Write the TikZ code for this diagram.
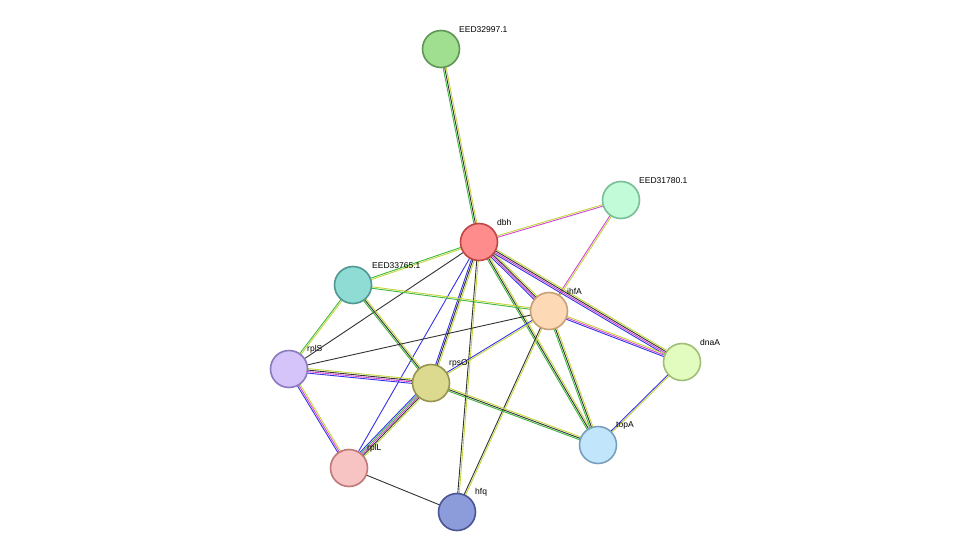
\documentclass[tikz,border=0pt]{standalone}
\usepackage{fontspec}
\setmainfont{Liberation Sans}
\usetikzlibrary{calc}
\pgfdeclarelayer{bg}
\pgfsetlayers{bg,main}
\definecolor{lgreen}{RGB}{61,185,61}
\definecolor{lyellow}{RGB}{196,214,60}
\definecolor{lblue}{RGB}{50,50,230}
\definecolor{lmag}{RGB}{210,70,210}
\definecolor{lblack}{RGB}{50,50,50}
\tikzset{
  prot/.style={circle,minimum size=37pt,inner sep=0pt,line width=1.6pt},
  lbl/.style={font=\fontsize{8.5}{10}\selectfont,anchor=south west,inner sep=1pt},
}
% parallel coloured lines between two nodes
\newcommand{\edge}[3]{%
  \foreach \c [count=\i] in {#3} {\xdef\nn{\i}}%
  \foreach \c [count=\i] in {#3} {
    \pgfmathsetmacro{\o}{(\i-(\nn+1)/2)*1.5}
    \draw[\c,line width=0.9pt] ($(#1)!\o pt!90:(#2)$) -- ($(#2)!\o pt!-90:(#1)$);
  }}
\begin{document}
\begin{tikzpicture}[x=1pt,y=-1pt]
    \useasboundingbox (0,0) rectangle (975,557);
    % proteins
    \node[prot,fill={rgb,255:red,159;green,223;blue,143},draw={rgb,255:red,95;green,150;blue,85}] (eed32997) at (441,49) {};
    \node[prot,fill={rgb,255:red,193;green,251;blue,216},draw={rgb,255:red,120;green,190;blue,150}] (eed31780) at (621,200) {};
    \node[prot,fill={rgb,255:red,255;green,140;blue,140},draw={rgb,255:red,190;green,70;blue,70}] (dbh) at (479,242) {};
    \node[prot,fill={rgb,255:red,143;green,220;blue,213},draw={rgb,255:red,80;green,150;blue,145}] (eed33765) at (353,285) {};
    \node[prot,fill={rgb,255:red,253;green,217;blue,181},draw={rgb,255:red,200;green,160;blue,120}] (ihfA) at (549,311) {};
    \node[prot,fill={rgb,255:red,226;green,251;blue,190},draw={rgb,255:red,160;green,190;blue,120}] (dnaA) at (682,362) {};
    \node[prot,fill={rgb,255:red,213;green,196;blue,250},draw={rgb,255:red,140;green,120;blue,190}] (rplS) at (289,369) {};
    \node[prot,fill={rgb,255:red,220;green,218;blue,143},draw={rgb,255:red,150;green,148;blue,80}] (rpsO) at (431,383) {};
    \node[prot,fill={rgb,255:red,193;green,230;blue,251},draw={rgb,255:red,120;green,160;blue,190}] (topA) at (598,445) {};
    \node[prot,fill={rgb,255:red,248;green,195;blue,195},draw={rgb,255:red,190;green,120;blue,120}] (rplL) at (349,468) {};
    \node[prot,fill={rgb,255:red,140;green,155;blue,218},draw={rgb,255:red,75;green,85;blue,150}] (hfq) at (457,512) {};
    % labels
    \node[lbl] at (458,34) {EED32997.1};
    \node[lbl] at (638,185) {EED31780.1};
    \node[lbl] at (496,227) {dbh};
    \node[lbl] at (371,270) {EED33765.1};
    \node[lbl] at (566,296) {ihfA};
    \node[lbl] at (699,347) {dnaA};
    \node[lbl] at (306,354) {rplS};
    \node[lbl] at (448,368) {rpsO};
    \node[lbl] at (615,430) {topA};
    \node[lbl] at (366,453) {rplL};
    \node[lbl] at (474,497) {hfq};
    % interactions
    \begin{pgfonlayer}{bg}
    \edge{eed32997}{dbh}{lgreen,lblack,lyellow}
    \edge{dbh}{eed31780}{lmag,lyellow}
    \edge{eed31780}{ihfA}{lmag,lyellow}
    \edge{dbh}{eed33765}{lgreen,lyellow}
    \edge{dbh}{ihfA}{lblue,lmag,lblack,lyellow}
    \edge{dbh}{dnaA}{lblue,lmag,lblack,lyellow}
    \edge{dbh}{topA}{lgreen,lblack,lyellow}
    \edge{dbh}{rpsO}{lblue,lblack,lyellow}
    \edge{dbh}{rplS}{lblack}
    \edge{dbh}{rplL}{lblue}
    \edge{dbh}{hfq}{lblack,lyellow}
    \edge{eed33765}{ihfA}{lgreen,lyellow}
    \edge{eed33765}{rpsO}{lgreen,lblack,lyellow}
    \edge{eed33765}{rplS}{lgreen,lyellow}
    \edge{ihfA}{dnaA}{lblue,lmag,lyellow}
    \edge{ihfA}{topA}{lgreen,lblack,lyellow}
    \edge{ihfA}{rpsO}{lblue,lyellow}
    \edge{ihfA}{rplS}{lblack}
    \edge{ihfA}{hfq}{lblack,lyellow}
    \edge{dnaA}{topA}{lblue,lyellow}
    \edge{rplS}{rpsO}{lblue,lmag,lblack,lyellow}
    \edge{rplS}{rplL}{lblue,lmag,lyellow}
    \edge{rpsO}{topA}{lgreen,lblack,lyellow}
    \edge{rpsO}{rplL}{lblue,lgreen,lmag,lblack,lyellow}
    \edge{rplL}{hfq}{lblack}
    \end{pgfonlayer}
\end{tikzpicture}
\end{document}
